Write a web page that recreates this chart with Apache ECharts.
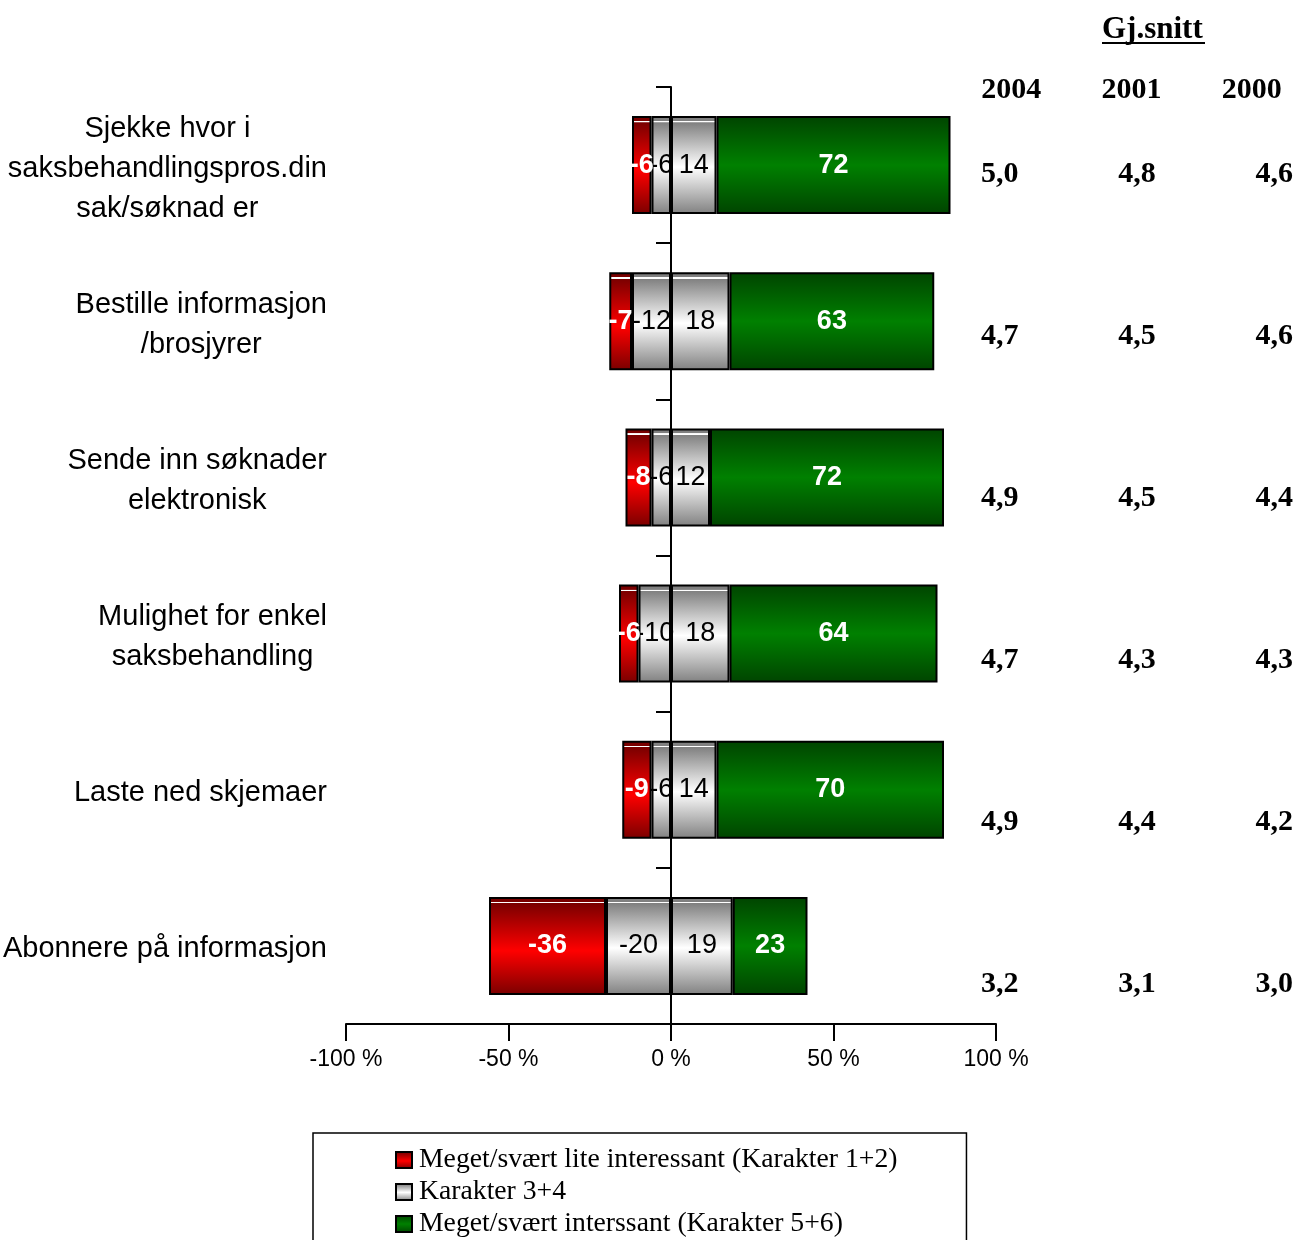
<!DOCTYPE html>
<html>
<head>
<meta charset="UTF-8">
<title>Interesse for tjenester</title>
<script src="https://cdn.jsdelivr.net/npm/echarts@6/dist/echarts.min.js"></script>
<style>
  html, body { margin: 0; padding: 0; background: #fff; }
  #container { width: 1302px; height: 1240px; }
</style>
</head>
<body>
<div id="container"></div>
<script>
// kategorier (ovenfra og ned)
var categories = [
  'Sjekke hvor i\nsaksbehandlingspros.din\nsak/søknad er',
  'Bestille informasjon\n/brosjyrer',
  'Sende inn søknader\nelektronisk',
  'Mulighet for enkel\nsaksbehandling',
  'Laste ned skjemaer',
  'Abonnere på informasjon'
];
// prosentandeler
var lowValues = [-6, -7, -8, -6, -9, -36];      // Karakter 1+2
var midNegValues = [-6, -12, -6, -10, -6, -20]; // Karakter 3+4, venstre halvdel
var midPosValues = [14, 18, 12, 18, 14, 19];    // Karakter 3+4, hoyre halvdel
var highValues = [72, 63, 72, 64, 70, 23];      // Karakter 5+6
var xTicks = [-100, -50, 0, 50, 100];

// gjennomsnitt
var years = ['2004', '2001', '2000'];
var avg2004 = [5.0, 4.7, 4.9, 4.7, 4.9, 3.2];
var avg2001 = [4.8, 4.5, 4.5, 4.3, 4.4, 3.1];
var avg2000 = [4.6, 4.6, 4.4, 4.3, 4.2, 3.0];

var nameLow = 'Meget/svært lite interessant (Karakter 1+2)';
var nameMid = 'Karakter 3+4';
var nameHigh = 'Meget/svært interssant (Karakter 5+6)';

var SANS = '"Liberation Sans", Arial, sans-serif';
var SERIF = '"Liberation Serif", "Times New Roman", serif';

// vertikal gradient, mork kant - lys midte, med tynn hvit glansstripe oppe
function grad(edge, mid, pos, shine) {
  var stops = [{offset: 0, color: edge}];
  if (shine) {
    stops.push({offset: 0.05, color: edge});
    stops.push({offset: 0.052, color: '#ffffff'});
    stops.push({offset: 0.064, color: '#ffffff'});
    stops.push({offset: 0.066, color: edge});
  }
  stops.push({offset: pos, color: mid});
  stops.push({offset: 1, color: edge});
  return new echarts.graphic.LinearGradient(0, 0, 0, 1, stops);
}
var redFill = grad('#7a0000', '#ff0000', 0.55, true);
var grayFill = grad('#808080', '#ffffff', 0.52, true);
var greenFill = grad('#004400', '#008000', 0.5, false);

function barSeries(name, data, fill, labelColor, bold) {
  return {
    name: name,
    type: 'bar',
    stack: 'total',
    barWidth: 98,
    data: data,
    itemStyle: {color: fill, borderColor: '#000', borderWidth: 2},
    label: {
      show: true,
      position: 'inside',
      color: labelColor,
      fontFamily: SANS,
      fontSize: 27,
      fontWeight: bold ? 'bold' : 'normal'
    },
    emphasis: {disabled: true}
  };
}

function avgSeries(col, data) {
  return {
    type: 'scatter',
    xAxisIndex: 1,
    yAxisIndex: 1,
    symbolSize: 1,
    itemStyle: {color: 'rgba(0,0,0,0)', opacity: 1},
    data: data.map(function (v, i) { return [col, i, v]; }),
    label: {
      show: true,
      position: 'inside',
      color: '#000',
      opacity: 1,
      textBorderWidth: 0,
      fontFamily: SERIF,
      fontWeight: 'bold',
      fontSize: 30,
      formatter: function (p) { return p.value[2].toFixed(1).replace('.', ','); }
    },
    emphasis: {disabled: true},
    silent: true
  };
}

var myChart = echarts.init(document.getElementById('container'));
var option = {
  animation: false,
  grid: [
    {left: 346, top: 87, width: 650, height: 937, outerBoundsMode: 'none', containLabel: false},
    {left: 931, top: 93, width: 412, height: 972, outerBoundsMode: 'none', containLabel: false},
    {left: 951, top: 93, width: 361, height: 972, outerBoundsMode: 'none', containLabel: false}
  ],
  xAxis: [
    {
      type: 'value',
      gridIndex: 0,
      min: xTicks[0],
      max: xTicks[xTicks.length - 1],
      interval: 50,
      splitLine: {show: false},
      axisLine: {show: true, lineStyle: {color: '#000', width: 2}},
      axisTick: {show: true, length: 17, lineStyle: {color: '#000', width: 2}},
      axisLabel: {
        margin: 24,
        color: '#000',
        fontFamily: SANS,
        fontSize: 23,
        formatter: '{value} %'
      }
    },
    {
      type: 'category',
      gridIndex: 1,
      data: years,
      show: false
    },
    {
      type: 'category',
      gridIndex: 2,
      position: 'top',
      data: years,
      axisLine: {show: false},
      axisTick: {show: false},
      axisLabel: {
        margin: -12,
        color: '#000',
        fontFamily: SERIF,
        fontWeight: 'bold',
        fontSize: 30
      }
    }
  ],
  yAxis: [
    {
      type: 'category',
      gridIndex: 0,
      inverse: true,
      data: categories,
      axisLine: {show: true, onZero: true, lineStyle: {color: '#000', width: 2}},
      axisTick: {show: true, length: 15, lineStyle: {color: '#000', width: 2}},
      axisLabel: {
        interval: 0,
        margin: 19,
        padding: [7, 0, 0, 0],
        formatter: function (v) {
          return v.split('\n').map(function (l) { return '{c|' + l + '}'; }).join('\n');
        },
        rich: {
          c: {align: 'center', fontFamily: SANS, fontSize: 29, lineHeight: 40, color: '#000'}
        }
      }
    },
    {
      type: 'category',
      gridIndex: 1,
      inverse: true,
      data: categories,
      show: false
    },
    {
      type: 'value',
      gridIndex: 2,
      show: false
    }
  ],
  legend: {
    orient: 'vertical',
    left: 313,
    top: 1133,
    height: 300,
    padding: [13, 69, 40, 82],
    itemGap: 4,
    itemWidth: 16,
    itemHeight: 16,
    icon: 'rect',
    borderColor: '#000',
    borderWidth: 1.5,
    data: [nameLow, nameMid, nameHigh],
    textStyle: {color: '#000', fontFamily: SERIF, fontSize: 27.7, padding: [0, 0, 0, 2]}
  },
  graphic: [
    {
      type: 'text',
      left: 1102,
      top: 14,
      style: {text: 'Gj.snitt', font: 'bold 31px ' + SERIF, fill: '#000'}
    },
    {
      type: 'line',
      shape: {x1: 1102, y1: 43, x2: 1205, y2: 43},
      style: {stroke: '#000', lineWidth: 2}
    }
  ],
  series: [
    barSeries(nameMid, midNegValues, grayFill, '#000', false),
    barSeries(nameLow, lowValues, redFill, '#fff', true),
    barSeries(nameMid, midPosValues, grayFill, '#000', false),
    barSeries(nameHigh, highValues, greenFill, '#fff', true),
    avgSeries(0, avg2004),
    avgSeries(1, avg2001),
    avgSeries(2, avg2000)
  ]
};
myChart.setOption(option);
</script>
</body>
</html>
